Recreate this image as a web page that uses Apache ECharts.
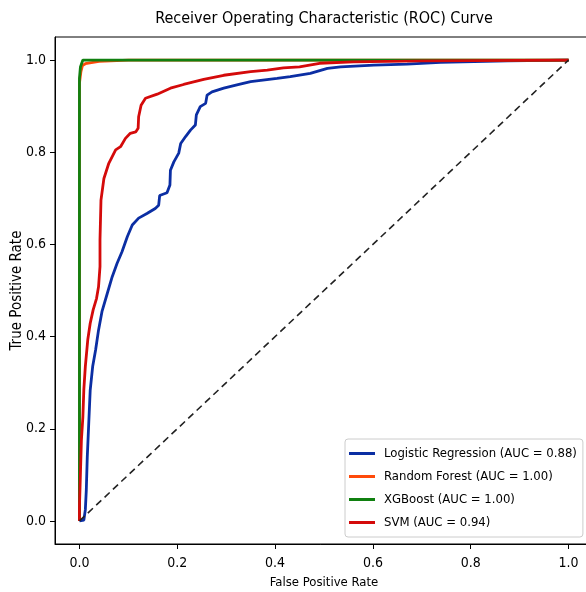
<!DOCTYPE html>
<html>
<head>
<meta charset="utf-8">
<script src="https://cdn.jsdelivr.net/npm/echarts@6/dist/echarts.min.js"></script>
<style>
  html, body { margin: 0; padding: 0; background: #fff; }
</style>
</head>
<body>
<div id="main" style="width:586px;height:592px;"></div>
<script>
// ticks shown on both axes
var tickValues = [0, 0.2, 0.4, 0.6, 0.8, 1.0];

// Logistic Regression (AUC = 0.88)
var lrFpr = [0, 0.009, 0.012, 0.014, 0.016, 0.019, 0.022, 0.027, 0.033, 0.039, 0.046, 0.057, 0.067, 0.077, 0.087, 0.098, 0.108, 0.121, 0.138, 0.155, 0.162, 0.164, 0.179, 0.185, 0.186, 0.193, 0.203, 0.207, 0.217, 0.227, 0.237, 0.239, 0.247, 0.258, 0.261, 0.271, 0.295, 0.322, 0.350, 0.404, 0.431, 0.472, 0.507, 0.534, 0.602, 0.670, 0.738, 0.875, 1.0];
var lrTpr = [0, 0.002, 0.024, 0.067, 0.139, 0.212, 0.284, 0.335, 0.371, 0.414, 0.454, 0.494, 0.530, 0.559, 0.584, 0.617, 0.642, 0.657, 0.667, 0.678, 0.685, 0.706, 0.712, 0.729, 0.761, 0.779, 0.798, 0.819, 0.834, 0.848, 0.859, 0.881, 0.899, 0.906, 0.924, 0.931, 0.939, 0.946, 0.953, 0.960, 0.964, 0.971, 0.982, 0.985, 0.989, 0.991, 0.995, 0.998, 1.0];

// Random Forest (AUC = 1.00)
var rfFpr = [0, 0, 0.003, 0.006, 0.012, 0.04, 0.1, 1.0];
var rfTpr = [0, 0.95, 0.975, 0.988, 0.992, 0.997, 1.0, 1.0];

// XGBoost (AUC = 1.00)
var xgbFpr = [0, 0, 0.002, 0.007, 1.0];
var xgbTpr = [0, 0.96, 0.985, 1.0, 1.0];

// SVM (AUC = 0.94)
var svmFpr = [0, 0, 0.002, 0.004, 0.007, 0.009, 0.012, 0.017, 0.022, 0.028, 0.035, 0.039, 0.042, 0.042, 0.044, 0.050, 0.060, 0.074, 0.084, 0.094, 0.104, 0.115, 0.120, 0.121, 0.126, 0.135, 0.159, 0.186, 0.213, 0.254, 0.295, 0.350, 0.384, 0.417, 0.450, 0.491, 0.560, 0.700, 1.0];
var svmTpr = [0, 0.031, 0.103, 0.176, 0.226, 0.286, 0.335, 0.393, 0.429, 0.458, 0.483, 0.508, 0.552, 0.610, 0.696, 0.743, 0.776, 0.805, 0.812, 0.830, 0.841, 0.844, 0.852, 0.877, 0.902, 0.917, 0.926, 0.939, 0.947, 0.958, 0.967, 0.975, 0.978, 0.983, 0.985, 0.993, 0.996, 0.998, 1.0];

// chance line
var chanceFpr = [0, 1];
var chanceTpr = [0, 1];

function pairs(xs, ys) {
  return xs.map(function (x, i) { return [x, ys[i]]; });
}

var FONT = '"Liberation Sans Narrow", "DejaVu Sans Condensed", "DejaVu Sans", sans-serif';

var myChart = echarts.init(document.getElementById('main'), null, { renderer: 'canvas' });

function axisCommon(name, gap, nameSize, labelMargin) {
  return {
    type: 'value',
    min: -0.05,
    max: 1.05,
    name: name,
    nameLocation: 'middle',
    nameGap: gap,
    nameMoveOverlap: false,
    nameTextStyle: { color: '#000', fontSize: nameSize, fontFamily: FONT },
    axisLine: { show: true, onZero: false, lineStyle: { color: '#000', width: 1 } },
    axisTick: { show: true, inside: false, length: 5, customValues: tickValues, lineStyle: { color: '#000' } },
    axisLabel: {
      customValues: tickValues,
      color: '#000', fontSize: 14, fontFamily: FONT, margin: labelMargin,
      formatter: function (v) { return v.toFixed(1); }
    },
    splitLine: { show: false }
  };
}

var option = {
  animation: false,
  backgroundColor: '#fff',
  title: {
    text: 'Receiver Operating Characteristic (ROC) Curve',
    left: 324,
    top: 11,
    padding: 0,
    textAlign: 'center',
    textStyle: { color: '#000', fontSize: 16, fontWeight: 'normal', fontFamily: FONT }
  },
  grid: {
    left: 55, top: 37, width: 538, height: 507,
    outerBoundsMode: 'none',
    containLabel: false,
    show: true, borderColor: '#000', borderWidth: 1, backgroundColor: 'transparent'
  },
  legend: {
    orient: 'vertical',
    left: 345,
    top: 439,
    padding: [3, 6, 3, 4],
    itemGap: 0,
    itemWidth: 26,
    itemHeight: 3,
    icon: 'rect',
    backgroundColor: '#fff',
    borderColor: '#ccc',
    borderWidth: 1,
    borderRadius: 3,
    textStyle: { color: '#000', fontSize: 13, fontFamily: FONT, lineHeight: 23, padding: [0, 0, 0, 4] },
    data: ['Logistic Regression (AUC = 0.88)', 'Random Forest (AUC = 1.00)', 'XGBoost (AUC = 1.00)', 'SVM (AUC = 0.94)']
  },
  xAxis: axisCommon('False Positive Rate', 32, 13, 12),
  yAxis: axisCommon('True Positive Rate', 30, 15, 9),
  series: [
    {
      name: 'Logistic Regression (AUC = 0.88)', type: 'line', showSymbol: false,
      data: pairs(lrFpr, lrTpr), color: '#0b2ea3', lineStyle: { width: 2.8 }
    },
    {
      name: 'Random Forest (AUC = 1.00)', type: 'line', showSymbol: false,
      data: pairs(rfFpr, rfTpr), color: '#ff4a0a', lineStyle: { width: 2.8 }
    },
    {
      name: 'XGBoost (AUC = 1.00)', type: 'line', showSymbol: false,
      data: pairs(xgbFpr, xgbTpr), color: '#108010', lineStyle: { width: 2.8 }
    },
    {
      name: 'SVM (AUC = 0.94)', type: 'line', showSymbol: false,
      data: pairs(svmFpr, svmTpr), color: '#d40a0a', lineStyle: { width: 2.8 }
    },
    {
      name: 'chance', type: 'line', showSymbol: false, silent: true,
      data: pairs(chanceFpr, chanceTpr), color: '#222',
      lineStyle: { width: 1.6, type: [7, 4.5] }
    }
  ]
};

myChart.setOption(option);
</script>
</body>
</html>
